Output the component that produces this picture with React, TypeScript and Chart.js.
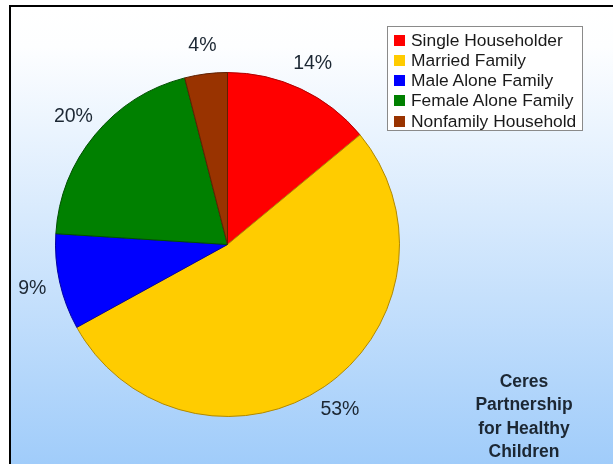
import React, { useEffect, useRef } from "react";
import { Chart, registerables } from "chart.js";

Chart.register(...registerables);

const categories = [
  "Single Householder",
  "Married Family",
  "Male Alone Family",
  "Female Alone Family",
  "Nonfamily Household",
];
const shares = [14, 53, 9, 20, 4];
const shareLabels = ["14%", "53%", "9%", "20%", "4%"];
const colors = ["#ff0000", "#ffcc00", "#0000ff", "#008000", "#993300"];
const borderColors = ["#b00000", "#b08800", "#0000a0", "#005000", "#602000"];
const noteLines = ["Ceres", "Partnership", "for Healthy", "Children"];

const labelPlugin = {
  id: "outerLabels",
  afterDatasetsDraw(chart: any) {
    const ctx = chart.ctx;
    const meta = chart.getDatasetMeta(0);
    ctx.save();
    ctx.font = '19.5px "Liberation Sans", Arial, sans-serif';
    ctx.fillStyle = "#1c2733";
    ctx.textAlign = "center";
    ctx.textBaseline = "middle";
    meta.data.forEach((arc: any, i: number) => {
      const mid = (arc.startAngle + arc.endAngle) / 2;
      const r = arc.outerRadius + 28;
      ctx.fillText(shareLabels[i], arc.x + Math.cos(mid) * r, arc.y + Math.sin(mid) * r);
    });
    ctx.restore();
  },
};

export default function App() {
  const ref = useRef<HTMLCanvasElement>(null);
  useEffect(() => {
    if (!ref.current) return;
    const chart = new Chart(ref.current, {
      type: "pie",
      data: {
        labels: categories,
        datasets: [
          {
            data: shares,
            backgroundColor: colors,
            borderColor: borderColors,
            borderWidth: 1,
          },
        ],
      },
      options: {
        responsive: false,
        animation: false,
        layout: { padding: { left: 55, right: 213, top: 72, bottom: 47 } },
        plugins: {
          legend: { display: false },
          tooltip: { enabled: false },
        },
      },
      plugins: [labelPlugin],
    });
    return () => chart.destroy();
  }, []);

  return (
    <div
      style={{
        position: "fixed",
        left: 0,
        top: 0,
        width: 613,
        height: 464,
        overflow: "hidden",
        background: "#ffffff",
        fontFamily: '"Liberation Sans", Arial, sans-serif',
      }}
    >
      <div
        style={{
          position: "absolute",
          left: 9,
          top: 5,
          width: 640,
          height: 500,
          borderTop: "2px solid #000",
          borderLeft: "2px solid #000",
          background: "linear-gradient(to bottom, #ffffff 0px, #fdfeff 40px, #a0ccfa 459px)",
        }}
      />
      <canvas
        ref={ref}
        width={613}
        height={464}
        style={{ position: "absolute", left: 0, top: 0 }}
      />
      <div
        style={{
          position: "absolute",
          left: 387,
          top: 26,
          width: 194,
          height: 103,
          border: "1px solid #8a8a8a",
          background: "#ffffff",
          boxSizing: "content-box",
        }}
      >
        {categories.map((c, i) => (
          <div
            key={c}
            style={{
              position: "absolute",
              left: 6,
              top: 3 + i * 20.3,
              height: 20,
              display: "flex",
              alignItems: "center",
              fontSize: 17.4,
              color: "#1a1a1a",
              whiteSpace: "nowrap",
            }}
          >
            <span
              style={{
                display: "inline-block",
                width: 11,
                height: 11,
                background: colors[i],
                marginRight: 6,
              }}
            />
            {c}
          </div>
        ))}
      </div>
      <div
        style={{
          position: "absolute",
          left: 444,
          top: 370,
          width: 160,
          textAlign: "center",
          fontWeight: "bold",
          fontSize: 17.5,
          lineHeight: "23.3px",
          color: "#1c2733",
        }}
      >
        {noteLines.map((l) => (
          <div key={l}>{l}</div>
        ))}
      </div>
    </div>
  );
}
